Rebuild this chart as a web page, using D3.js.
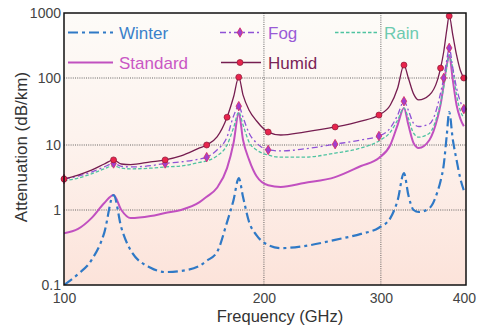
<!DOCTYPE html>
<html>
<head>
<meta charset="utf-8">
<script src="https://cdn.jsdelivr.net/npm/d3@7/dist/d3.min.js"></script>
<style>
  html, body { margin: 0; padding: 0; background: #ffffff; }
  svg { display: block; font-family: "Liberation Sans", Arial, sans-serif; }
</style>
</head>
<body>
<svg id="chart" width="477" height="327"></svg>
<script>
// ---------- data ----------
const freqs = [100,105,110,115,118.75,122,126,135,142,150,160,164,170,176,180,183.3,186,190,195,203,212,230,256,280,298,310,318,325,330,336,342,355,365,369,373,377,380.2,385,390,395,400];

const winter   = [0.1,0.14,0.215,0.5,1.7,0.58,0.29,0.17,0.149,0.154,0.18,0.21,0.275,0.69,1.42,3.1,1.6,0.69,0.46,0.34,0.31,0.33,0.4,0.48,0.58,0.78,1.42,3.7,1.7,1.0,0.94,1.07,1.9,2.8,4.9,14,31,12,5.9,3.1,2.0];
const fog      = [3.0,3.33,3.84,4.6,5.2,4.7,4.6,4.8,5.2,5.5,6.1,6.5,8.4,13.2,27,38,26,15,10.7,8.4,8.1,8.7,10.3,11.9,13.6,18,28,45,33,21,18.9,20.6,38,60,100,189,290,142,71,45,34.4];
const rain     = [2.8,3.1,3.6,4.3,4.8,4.4,4.3,4.4,4.6,4.75,5.4,5.7,6.8,10,18,31,20,11,8.4,7.0,6.5,6.5,7.5,9.0,11.5,15.6,23.6,35.6,25,15,13.1,15,28,42,73,142,226,138,56,33,25.3];
const standard = [0.49,0.56,0.78,1.28,1.7,1.0,0.78,0.83,0.91,1.0,1.32,1.6,2.2,4.4,10.7,30,12,5.9,3.3,2.4,2.26,2.6,3.2,4.75,6.3,10,20,35.6,20,10.7,9.0,11.9,25,40,79,158,226,93,39.5,25,19];
const humid    = [3.0,3.45,4.1,5.1,5.9,5.1,5.0,5.5,5.9,6.8,9.0,10,13.2,26,52,103,56,33,22.8,15.6,14.1,15.6,18.6,22.8,28,39.5,71,158,100,58,47,55.7,93,142,251,548,900,458,226,133,100];

const fogMarkers   = [100,118.75,142,164,183.3,203,256,298,325,373,380.2,400];
const humidMarkers = [100,118.75,142,164,176,183.3,203,256,298,325,369,380.2,400];

const seriesNames = ["Winter","Fog","Rain","Standard","Humid"];
const xTicks = [100,200,300,400];
const yTicks = [0.1,1,10,100,1000];
const yTickLabels = ["0.1","1","10","100","1000"];
const xGrid = [200,300];
const yGrid = [1,10,100];

// ---------- styles ----------
const styles = {
  Winter:   {color:"#2f79c6", text:"#3a80ca", width:2.2, dash:"10,4,3,4"},
  Fog:      {color:"#8f52d6", text:"#9a5bd6", width:1.3, dash:"6,3,2,3"},
  Rain:     {color:"#4fc3a1", text:"#6ccab0", width:1.3, dash:"3.5,2"},
  Standard: {color:"#c150c0", text:"#c957c4", width:2.0, dash:null},
  Humid:    {color:"#761d50", text:"#7a2458", width:1.3, dash:null}
};
const seriesData = {Winter:winter, Fog:fog, Rain:rain, Standard:standard, Humid:humid};

// ---------- layout ----------
const L = 64, R = 466, T = 13, B = 285;
const svg = d3.select("#chart");

const x = d3.scaleLog().domain([100,403]).range([L,R]);
const y = d3.scaleLog().domain([0.1,1,10,100,1000]).range([B,210,145,78,T]);

// background gradient
const defs = svg.append("defs");
const grad = defs.append("linearGradient").attr("id","bg").attr("x1",0).attr("y1",0).attr("x2",0).attr("y2",1);
grad.append("stop").attr("offset","0%").attr("stop-color","#fdfbf8");
grad.append("stop").attr("offset","45%").attr("stop-color","#fdf3ee");
grad.append("stop").attr("offset","100%").attr("stop-color","#fce3da");
defs.append("clipPath").attr("id","clip").append("rect")
  .attr("x",L).attr("y",T).attr("width",R-L).attr("height",B-T);

svg.append("rect").attr("x",L).attr("y",T).attr("width",R-L).attr("height",B-T).attr("fill","url(#bg)");

// grid
const grid = svg.append("g").attr("stroke","#555").attr("stroke-width",0.9).attr("stroke-dasharray","1,1.2");
grid.selectAll("line.h").data(yGrid).join("line").attr("class","h")
  .attr("x1",L).attr("x2",R).attr("y1",d=>y(d)).attr("y2",d=>y(d));
grid.selectAll("line.v").data(xGrid).join("line").attr("class","v")
  .attr("x1",d=>x(d)).attr("x2",d=>x(d)).attr("y1",T).attr("y2",B);

// lines
const line = d3.line().x((d,i)=>x(freqs[i])).y(d=>y(d)).curve(d3.curveMonotoneX);
const plot = svg.append("g").attr("clip-path","url(#clip)");
const drawOrder = ["Standard","Rain","Fog","Winter","Humid"];
drawOrder.forEach(name=>{
  const s = styles[name];
  plot.append("path").datum(seriesData[name])
    .attr("d", line)
    .attr("fill","none")
    .attr("stroke", s.color)
    .attr("stroke-width", s.width)
    .attr("stroke-dasharray", s.dash)
    .attr("stroke-linejoin","round");
});

// markers
const diamond = d3.symbol().type(d3.symbolDiamond).size(26);
const markG = svg.append("g");
markG.selectAll("path.fogm").data(fogMarkers).join("path").attr("class","fogm")
  .attr("d", diamond)
  .attr("transform", f => `translate(${x(f)},${y(fog[freqs.indexOf(f)])})`)
  .attr("fill","#a23fcf").attr("stroke","#d62b5a").attr("stroke-width",0.8);
markG.selectAll("circle.hm").data(humidMarkers).join("circle").attr("class","hm")
  .attr("cx", f => x(f)).attr("cy", f => y(humid[freqs.indexOf(f)]))
  .attr("r",3).attr("fill","#e8244c").attr("stroke","#8a1838").attr("stroke-width",0.7);

// frame
svg.append("rect").attr("x",L).attr("y",T).attr("width",R-L).attr("height",B-T)
  .attr("fill","none").attr("stroke","#111").attr("stroke-width",1.5);

// axes
const xAxis = d3.axisBottom(x).tickValues(xTicks).tickSize(0).tickPadding(8).tickFormat(d3.format("d"));
const gx = svg.append("g").attr("transform",`translate(0,${B})`).call(xAxis);
gx.select(".domain").remove();
gx.selectAll("text").attr("font-size",14).attr("fill","#444").attr("font-family","Liberation Sans, Arial, sans-serif");

const yAxis = d3.axisLeft(y).tickValues(yTicks).tickSize(0).tickPadding(3)
  .tickFormat((d,i)=>yTickLabels[i]);
const gy = svg.append("g").attr("transform",`translate(${L},0)`).call(yAxis);
gy.select(".domain").remove();
gy.selectAll("text").attr("font-size",14).attr("fill","#444").attr("font-family","Liberation Sans, Arial, sans-serif");

// axis titles
svg.append("text").attr("x",(L+R)/2 + 15).attr("y",322).attr("text-anchor","middle")
  .attr("font-size",16.5).attr("fill","#333").text("Frequency (GHz)");
svg.append("text").attr("transform",`translate(27,${(T+B)/2 - 2}) rotate(-90)`).attr("text-anchor","middle")
  .attr("font-size",17).attr("fill","#333").text("Attenuation (dB/km)");

// legend
const legendPos = {
  Winter:   {x:68,  y:32.5},
  Fog:      {x:220, y:32.5},
  Rain:     {x:335, y:32.5},
  Standard: {x:68,  y:62.5},
  Humid:    {x:221, y:62.5}
};
const lg = svg.append("g");
seriesNames.forEach(name=>{
  const p = legendPos[name], s = styles[name];
  const len = name === "Rain" ? 42 : (name==="Winter"||name==="Standard" ? 45 : 40);
  lg.append("line").attr("x1",p.x).attr("x2",p.x+len).attr("y1",p.y).attr("y2",p.y)
    .attr("stroke",s.color).attr("stroke-width",s.width).attr("stroke-dasharray",s.dash);
  if (name==="Fog") {
    lg.append("path").attr("d",diamond).attr("transform",`translate(${p.x+20},${p.y})`)
      .attr("fill","#a23fcf").attr("stroke","#d62b5a").attr("stroke-width",0.8);
  }
  if (name==="Humid") {
    lg.append("circle").attr("cx",p.x+19).attr("cy",p.y).attr("r",3)
      .attr("fill","#e8244c").attr("stroke","#8a1838").attr("stroke-width",0.7);
  }
  const tx = name==="Rain" ? p.x+49 : (name==="Winter"||name==="Standard" ? 119 : 268);
  lg.append("text").attr("x",tx).attr("y",p.y+6.3).attr("font-size",17)
    .attr("fill",s.text).text(name);
});
</script>
</body>
</html>
